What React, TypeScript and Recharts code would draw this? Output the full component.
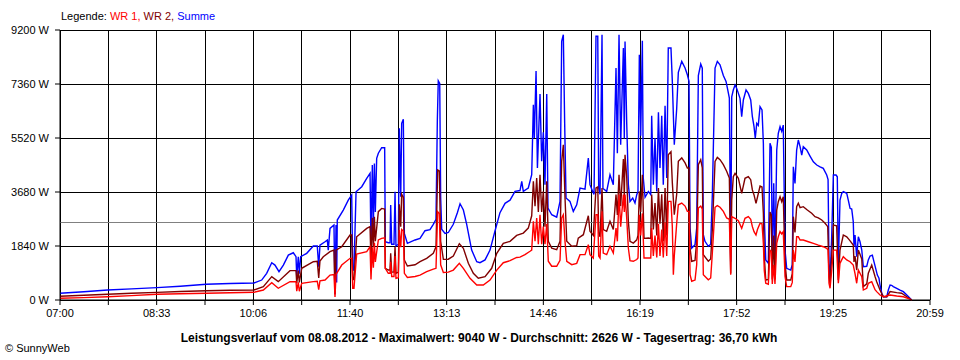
import { LineChart, Line, XAxis, YAxis, CartesianGrid, ReferenceLine } from 'recharts'

// minutes after 07:00 -> watts
const summe: [number, number][] = [
  [0, 228], [23, 280], [46, 340], [69, 380], [93.5, 420], [116, 470], [141, 535], [164, 560], [187, 580],
  [194.5, 680], [199.3, 910], [204.2, 1270], [207.3, 1190], [211.2, 965], [215.4, 1190], [220.2, 1530],
  [225, 1610], [227.6, 1475], [228.3, 795], [229.8, 1475], [230.8, 900], [232.1, 1475], [237.9, 1590],
  [244.3, 1840], [248.1, 1840], [249.5, 1135], [250.7, 1870], [255.6, 1985], [257.8, 2040], [258.7, 1700],
  [260.4, 2440], [264.2, 2555], [265.2, 200], [266.2, 2555], [266.8, 600], [267.4, 2725], [273.2, 3065],
  [278, 3405], [281.3, 3580], [282.3, 1020], [283.5, 1020], [285.5, 3690], [291, 3860], [295.8, 4145],
  [299, 4315], [299.9, 1800], [301.2, 4600], [302.2, 2500], [303.2, 4650], [304.1, 3000], [305.4, 4830],
  [307, 5000], [310.2, 5190], [313.1, 5190], [313.7, 1985], [316.6, 1950], [318.3, 1950], [318.9, 3240],
  [319.9, 1900], [322.1, 1900], [323.1, 3690], [324, 1840], [326.3, 1900], [327.2, 5850], [328.6, 3520],
  [329.5, 6020], [331.1, 6155], [332.1, 2270], [335, 1930], [342.4, 2045], [347.2, 2100], [352, 2360],
  [356.8, 2400], [360, 2580], [362.6, 2750], [363.9, 6130], [364.8, 7470], [366.2, 7380], [367.1, 3500],
  [368.1, 2410], [371.3, 2270], [374.5, 2300], [379.3, 2580], [383.2, 2975], [385.8, 3280], [389, 3065],
  [392.2, 2580], [397, 1700], [401.9, 1305], [405, 1270], [409.9, 1365], [414.7, 1700], [419.5, 2350],
  [424.3, 2975], [429.2, 3295], [434, 3400], [438.8, 3700], [443.6, 3730], [445.3, 4045], [446.8, 3700],
  [451.6, 3815], [454.9, 4270], [456.5, 6650], [457.4, 5520], [459.1, 7800], [460.4, 4500], [462.9, 7020],
  [464.5, 4725], [466.1, 5715], [467.7, 3930], [469.4, 7020], [470.6, 3135], [474.2, 2905], [479, 2820],
  [482.2, 3360], [483.8, 8810], [485.4, 9040], [486.7, 6000], [488, 3475], [491.8, 3360], [495, 3020],
  [498.3, 3245], [501.5, 3815], [506.3, 3780], [509.5, 4840], [511.1, 3930], [513.7, 3700], [515, 3600],
  [516.9, 8985], [518.6, 8985], [519.5, 3815], [520.8, 3600], [522.7, 9040], [523.6, 3800], [527.2, 3700],
  [530.4, 4270], [533.6, 3930], [536.2, 7905], [537.5, 5000], [539.1, 9040], [540.7, 5290], [543.3, 8585],
  [544.2, 5500], [544.9, 8810], [546.5, 6055], [548.1, 3930], [549.7, 3360], [552.3, 3475], [554.5, 3305],
  [556.2, 3590], [557.4, 3700], [558.7, 8360], [560, 5600], [561.6, 8830], [562.5, 4155], [564.2, 3500],
  [567.4, 3700], [569.7, 3590], [570.6, 6280], [572.2, 3930], [573.8, 5520], [575.5, 3700], [577.1, 6395],
  [578.6, 4500], [580.3, 6280], [581.8, 3930], [583.5, 6620], [585.1, 4155], [586.6, 8585], [589.2, 8585],
  [590.5, 7450], [592.4, 5290], [594.7, 6510], [596.3, 7760], [599.6, 8130], [602.8, 7905], [605, 7675],
  [606.6, 7450], [607.6, 2450], [609.2, 1770], [612.4, 1885], [614, 2450], [615.6, 7650], [617.9, 8040],
  [619.4, 7900], [620.4, 2225], [622, 2000], [625.2, 1830], [627.5, 1900], [629.1, 3590], [631.7, 7905],
  [633.9, 8130], [636.5, 8015], [639.7, 7650], [642.3, 7450], [643.9, 7165], [645.5, 6880], [646.8, 1300],
  [647.8, 6925], [649.3, 7155], [651, 7325], [652.6, 7210], [654.2, 7040], [655.8, 6870], [657.4, 6245],
  [659, 6815], [661.6, 7155], [663.8, 7040], [666.1, 6815], [667.7, 6245], [669.3, 5905], [670.5, 5510],
  [671.9, 6020], [673.4, 5950], [675.1, 6585], [677, 6475], [678.3, 5340], [679.2, 2840], [680.6, 1365],
  [683.1, 1250], [684.7, 5340], [686, 5200], [686.9, 1250], [688.3, 3975], [689.5, 1250], [691.2, 5110],
  [692.7, 5680], [694.4, 5905], [696, 5750], [697.5, 5960], [699.2, 1700], [700.8, 1080], [704.7, 1020],
  [706.2, 1200], [707.2, 4540], [708.8, 3975], [710.4, 5110], [712, 5450], [713.7, 5225], [715.3, 4940],
  [716.8, 5225], [720.1, 5110], [723.3, 4905], [726.5, 4710], [729.8, 4600], [733, 4540], [736.1, 4485],
  [739.4, 4260], [740.7, 4100], [741.6, 1250], [742.6, 680], [744.2, 2155], [745.8, 4260], [748.4, 4260],
  [749.6, 4200], [750.6, 1135], [752.2, 3405], [753.9, 3635], [755.4, 3690], [758.7, 3635], [760.2, 3405],
  [761.9, 3125], [763.5, 3100], [765, 2670], [765.7, 1815], [766.7, 2215], [768.3, 1475], [769.9, 2155],
  [771.5, 1985], [773.2, 1700], [774.7, 1135], [778, 1150], [779.5, 1365], [781.2, 1500], [783.4, 1530],
  [785, 1300], [786.6, 1080], [788.2, 850], [789.8, 740], [790.8, 510], [792.5, 230], [794, 110],
  [797.3, 110], [798.8, 340], [800.5, 510], [802, 500], [803.6, 455], [806.9, 400], [810.1, 340],
  [813.3, 285], [816.6, 170], [819.7, 60], [821.4, 0],
]

const wr2: [number, number][] = [
  [0, 130], [23, 160], [46, 195], [69, 230], [93.5, 260], [116, 290], [141, 317], [164, 330], [187, 340],
  [196.1, 455], [204.2, 795], [210.5, 625], [221.8, 1000], [227.6, 1000], [228.3, 570], [229.8, 1000],
  [230.8, 600], [233.1, 1080], [244.3, 1305], [248.1, 1320], [249.5, 750], [250.7, 1330], [253.9, 1475],
  [260.4, 1645], [264.2, 1700], [265.2, 200], [266.2, 1700], [271.7, 1815], [279.7, 2215], [281.3, 2215],
  [282.3, 700], [283.5, 700], [286.1, 2155], [295.8, 2440], [299, 2500], [299.9, 1300], [301.2, 2800],
  [302.2, 1800], [303.2, 2840], [304.1, 2000], [307, 3010], [310.2, 3120], [313.1, 3100], [313.7, 1080],
  [316.6, 1020], [318.3, 1020], [318.9, 1590], [319.9, 950], [322.1, 950], [323.1, 1815], [324, 910],
  [326.3, 950], [327.2, 3260], [328.6, 2500], [329.5, 3600], [331.1, 3500], [332.1, 1365], [335, 1160],
  [342.4, 1200], [347.2, 1305], [353.6, 1420], [360, 1590], [362.6, 1815], [364.2, 4430], [365.8, 4400],
  [367.1, 2000], [369.7, 1385], [374.5, 1390], [379.3, 1500], [385.1, 1920], [389, 1760], [393.8, 1250],
  [398.6, 910], [403.4, 740], [409.9, 795], [416.3, 1080], [421.2, 1590], [427.5, 1930], [434, 2000],
  [440.4, 2200], [446.8, 2280], [451.6, 2450], [454.9, 2870], [456.5, 4045], [458.1, 3200], [459.7, 4155],
  [461.3, 3000], [462.9, 4270], [464.5, 3000], [466.1, 3700], [467.7, 2500], [469.4, 4045], [470.9, 2000],
  [474.2, 1770], [479, 1715], [482.2, 2000], [483.8, 4725], [485.4, 5290], [487, 3500], [488.7, 2000],
  [493.5, 1830], [498.3, 1850], [499.8, 2110], [504.7, 2225], [509.5, 2870], [511.1, 2340], [514.3, 2200],
  [516.9, 3815], [518.6, 3850], [519.5, 2300], [520.8, 2150], [522.7, 3815], [523.9, 2400], [527.2, 2340],
  [530.4, 2680], [533.6, 2400], [536.2, 3590], [537.5, 2900], [539.1, 4270], [540.7, 3200], [543.3, 4800],
  [544.2, 3500], [544.9, 4950], [546.5, 4200], [548.1, 2680], [549.7, 2000], [552.9, 1940], [556.2, 2050],
  [557.4, 2200], [558.7, 3700], [560, 3000], [561.6, 4270], [563.2, 2100], [567.4, 2110], [569.7, 2100],
  [570.6, 3590], [572.2, 2400], [573.8, 3300], [575.5, 2200], [577.1, 3815], [578.6, 2600], [580.3, 3600],
  [581.8, 2000], [583.5, 3815], [585.1, 2200], [586.6, 4950], [589.2, 5050], [590.5, 4000], [592.4, 2905],
  [594.7, 3600], [596.3, 4725], [599.6, 4840], [602.8, 4670], [605, 4500], [606.6, 4500], [607.6, 1770],
  [609.2, 1320], [612.4, 1350], [614, 2000], [615.6, 4610], [617.9, 4780], [619.4, 4500], [620.4, 1545],
  [625.2, 1320], [627.5, 1400], [629.1, 2400], [631.7, 4725], [633.9, 4860], [636.5, 4780], [639.7, 4610],
  [642.9, 4385], [645.5, 4155], [646.8, 900], [647.8, 3400], [649.3, 4200], [651, 4315], [654.2, 4145],
  [657.4, 3635], [660.6, 4145], [663.8, 4200], [666.1, 4100], [667.7, 3750], [669.3, 3580], [671.2, 3295],
  [672.6, 3500], [675.1, 3885], [677, 3850], [678.3, 2955], [679.2, 1475], [680.6, 680], [683.1, 700],
  [684.7, 3000], [686, 2900], [686.9, 700], [688.3, 2200], [689.5, 700], [691.2, 3065], [692.7, 3350],
  [694.4, 3520], [696, 3350], [697.5, 3520], [699.2, 1250], [700.8, 680], [704.7, 680], [706.2, 900],
  [707.2, 2840], [708.8, 2300], [710.4, 3180], [712, 3295], [713.7, 3150], [716.8, 3180], [720.7, 3065],
  [724.9, 2955], [728.1, 2840], [731.3, 2800], [734.6, 2725], [737.8, 2615], [740.4, 2500], [741.6, 795],
  [742.6, 570], [744.2, 1500], [745.8, 2555], [749, 2530], [750.6, 680], [752.2, 1700], [755.4, 2215],
  [758.7, 2150], [761.2, 2050], [765, 1870], [765.7, 1300], [766.7, 1500], [768.3, 1020], [769.9, 1700],
  [773.2, 1400], [774.7, 455], [778, 550], [779.5, 910], [782.8, 1190], [786, 800], [787.6, 625],
  [790.8, 340], [794, 110], [797.3, 110], [800.5, 285], [806.9, 250], [811.7, 230], [816.6, 110], [821.4, 0],
]

const wr1: [number, number][] = [
  [0, 60], [23, 80], [46, 112], [69, 150], [93.5, 195], [116, 215], [141, 228], [164, 245], [187, 262],
  [196.1, 340], [204.2, 590], [210.5, 400], [221.8, 625], [227.6, 620], [228.3, 300], [229.8, 600],
  [230.8, 300], [233.1, 570], [244.3, 625], [248.1, 640], [249.5, 350], [250.7, 650], [255.6, 680],
  [260.4, 850], [264.2, 870], [265.2, 100], [266.2, 870], [271.7, 1190], [279.7, 1420], [281.3, 1420],
  [282.3, 400], [283.5, 400], [286.1, 1565], [295.8, 1645], [299, 1815], [299.9, 700], [301.2, 1800],
  [302.2, 1100], [303.2, 1950], [304.1, 1300], [307, 2045], [310.2, 2100], [313.1, 2120], [313.7, 1080],
  [316.6, 910], [318.3, 910], [318.9, 1300], [319.9, 800], [322.1, 800], [323.1, 1500], [324, 740],
  [326.3, 760], [327.2, 2385], [328.6, 1800], [329.5, 2400], [331.1, 2350], [332.1, 910], [335, 770],
  [342.4, 800], [347.2, 850], [353.6, 965], [360, 1050], [362.6, 1080], [364.2, 3010], [365.8, 2950],
  [367.1, 1200], [369.7, 940], [374.5, 950], [379.3, 1020], [385.1, 1250], [389, 1080], [395.4, 740],
  [401.9, 510], [408.2, 510], [414.7, 680], [421.2, 1020], [427.5, 1270], [434, 1340], [440.4, 1450],
  [443.6, 1460], [448.4, 1545], [453.3, 1660], [454.9, 1700], [456.5, 2680], [458.1, 2000], [459.7, 2795],
  [461.3, 1900], [462.9, 2905], [464.5, 1900], [466.1, 2500], [467.7, 1900], [469.4, 2600], [470.9, 1320],
  [474.2, 1150], [479, 1150], [482.2, 1350], [483.8, 2795], [485.4, 2905], [487, 2000], [488.7, 1320],
  [493.5, 1205], [498.3, 1250], [501.5, 1545], [506.3, 1545], [509.5, 1885], [511.1, 1545], [514.3, 1430],
  [516.9, 2905], [518.6, 2905], [519.5, 1500], [520.8, 1430], [522.7, 3020], [523.9, 1600], [527.2, 1545],
  [530.4, 1830], [533.6, 1600], [536.2, 2450], [537.5, 2000], [539.1, 3590], [540.7, 2500], [543.3, 3590],
  [544.2, 3000], [544.9, 3590], [546.5, 2800], [548.1, 1770], [549.7, 1340], [552.9, 1320], [556.2, 1380],
  [557.4, 1430], [558.7, 2905], [560, 2200], [561.6, 2950], [563.2, 1430], [567.4, 1430], [569.7, 1430],
  [570.6, 2450], [572.2, 1500], [573.8, 2200], [575.5, 1450], [577.1, 2600], [578.6, 1500], [580.3, 2400],
  [581.8, 1450], [583.5, 2650], [585.1, 1500], [586.6, 3360], [589.2, 3360], [590.5, 2500], [591.5, 865],
  [592.4, 1500], [594.7, 2600], [596.3, 3245], [599.6, 3305], [602.8, 3200], [605, 3020], [606.6, 3020],
  [607.6, 865], [609.2, 640], [612.4, 680], [614, 1200], [615.6, 3135], [617.9, 3200], [619.4, 3100],
  [620.4, 865], [625.2, 690], [627.5, 750], [629.1, 1600], [631.7, 3160], [633.9, 3215], [636.5, 3160],
  [639.7, 3020], [642.9, 2795], [645.5, 2750], [646.8, 865], [647.8, 2840], [651, 2785], [654.2, 2700],
  [657.4, 2440], [660.6, 2785], [663.8, 2840], [666.1, 2750], [667.7, 2500], [669.3, 2330], [671.2, 2215],
  [672.6, 2400], [675.1, 2615], [677, 2600], [678.3, 1930], [679.2, 1000], [680.6, 570], [683.1, 535],
  [684.7, 1700], [686, 1650], [686.9, 550], [688.3, 1200], [689.5, 550], [691.2, 1930], [692.7, 2155],
  [694.4, 2330], [696, 2250], [697.5, 2330], [699.2, 800], [700.8, 455], [704.7, 455], [706.2, 600],
  [707.2, 1700], [708.8, 1300], [710.4, 2155], [712, 2155], [713.7, 2045], [716.8, 2045], [721.7, 1985],
  [726.5, 1930], [731.3, 1870], [736.1, 1815], [739.4, 1760], [740.7, 1700], [741.6, 570], [742.6, 400],
  [744.2, 1000], [745.8, 1700], [749, 1700], [750.6, 570], [752.2, 1250], [755.4, 1475], [758.7, 1365],
  [761.9, 1305], [765, 1190], [766.7, 900], [768.3, 570], [769.9, 1020], [773.2, 795], [774.7, 340],
  [778, 400], [779.5, 570], [782.8, 625], [786, 350], [787.6, 285], [790.8, 170], [794, 110], [800.5, 170],
  [806.9, 135], [813.3, 110], [819.7, 30], [821.4, 0],
]

const timeLabels = ['07:00', '08:33', '10:06', '11:40', '13:13', '14:46', '16:19', '17:52', '19:25', '20:59']
const powerTicks = [0, 1840, 3680, 5520, 7360, 9200]
const average = 2626

const DAY_END = 839
const xTicks = Array.from({ length: 19 }, (_, i) => (i * DAY_END) / 18)

const toRows = (pts: [number, number][]) => pts.map(([t, w]) => ({ t, w }))

const font = '"Liberation Sans", Arial, sans-serif'
const tickStyle = { fill: '#000', fontSize: 11, fontFamily: font }

export default function App() {
  return (
    <div
      style={{
        position: 'absolute',
        left: 0,
        top: 0,
        width: 960,
        height: 360,
        background: '#fff',
        fontFamily: font,
      }}
    >
      <LineChart width={960} height={360} margin={{ top: 30, right: 30, left: 0, bottom: 30 }}>
        <CartesianGrid stroke="#000" strokeWidth={1} shapeRendering="crispEdges" />
        <XAxis
          type="number"
          dataKey="t"
          domain={[0, DAY_END]}
          ticks={xTicks}
          interval={0}
          allowDuplicatedCategory={false}
          tickFormatter={(_v, i) => (i % 2 === 0 ? timeLabels[i / 2] : '')}
          tick={tickStyle}
          tickSize={5}
          tickMargin={4}
          height={30}
          stroke="#000"
          axisLine={{ stroke: '#000' }}
          tickLine={{ stroke: '#000' }}
        />
        <YAxis
          type="number"
          dataKey="w"
          domain={[0, 9200]}
          ticks={powerTicks}
          interval={0}
          tickFormatter={(v) => `${v} W`}
          tick={tickStyle}
          tickSize={5}
          tickMargin={6}
          width={60}
          stroke="#000"
        />
        <ReferenceLine y={average} stroke="#808080" strokeWidth={1} shapeRendering="crispEdges" />
        <Line
          data={toRows(summe)}
          dataKey="w"
          name="Summe"
          type="linear"
          stroke="#0000ff"
          strokeWidth={1.4}
          dot={false}
          isAnimationActive={false}
        />
        <Line
          data={toRows(wr2)}
          dataKey="w"
          name="WR 2"
          type="linear"
          stroke="#800000"
          strokeWidth={1.4}
          dot={false}
          isAnimationActive={false}
        />
        <Line
          data={toRows(wr1)}
          dataKey="w"
          name="WR 1"
          type="linear"
          stroke="#ff0000"
          strokeWidth={1.4}
          dot={false}
          isAnimationActive={false}
        />
      </LineChart>
      <div style={{ position: 'absolute', left: 61, top: 10, fontSize: 11, lineHeight: '13px', whiteSpace: 'nowrap' }}>
        <span style={{ color: '#000' }}>Legende: </span>
        <span style={{ color: '#ff0000' }}>WR 1, </span>
        <span style={{ color: '#800000' }}>WR 2, </span>
        <span style={{ color: '#0000ff' }}>Summe</span>
      </div>
      <div
        style={{
          position: 'absolute',
          left: 0,
          top: 331,
          width: 958,
          textAlign: 'center',
          fontSize: 12,
          fontWeight: 'bold',
          lineHeight: '14px',
          whiteSpace: 'nowrap',
        }}
      >
        Leistungsverlauf vom 08.08.2012 - Maximalwert: 9040 W - Durchschnitt: 2626 W - Tagesertrag: 36,70 kWh
      </div>
      <div style={{ position: 'absolute', left: 5, top: 342, fontSize: 11, lineHeight: '13px', whiteSpace: 'nowrap' }}>
        © SunnyWeb
      </div>
    </div>
  )
}
